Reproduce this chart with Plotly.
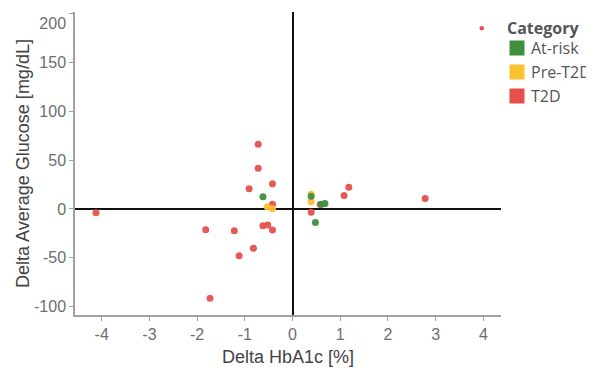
import plotly.graph_objects as go

categories = ["At-risk", "Pre-T2D", "T2D"]
colors = {"At-risk": "#3F8F3F", "Pre-T2D": "#FDC02F", "T2D": "#E5504D"}

at_risk_x = [-0.62, 0.39, 0.60, 0.68, 0.48]
at_risk_y = [12.5, 13.1, 4.9, 5.6, -13.8]

pre_t2d_x = [-0.53, -0.42, 0.39, 0.39]
pre_t2d_y = [2.2, 0.2, 15.1, 7.3]

t2d_x = [-0.72, -0.72, -0.42, -0.91, -0.42, -1.82, -1.22, -0.62, -0.52, -0.42,
         -0.82, -1.12, -1.73, 0.58, 0.39, 1.08, 1.18, 2.78, -4.12]
t2d_y = [66.2, 41.7, 25.7, 20.6, 4.9, -21.2, -22.3, -17.2, -16.5, -21.6,
         -40.3, -47.8, -91.4, 4.6, -3.3, 13.8, 22.3, 10.7, -3.9]

series = {
    "T2D": (t2d_x, t2d_y),
    "Pre-T2D": (pre_t2d_x, pre_t2d_y),
    "At-risk": (at_risk_x, at_risk_y),
}

x_ticks = [-4, -3, -2, -1, 0, 1, 2, 3, 4]
x_ticklabels = ["-4", "-3", "-2", "-1", "0", "1", "2", "3", "4"]
y_ticks = [-100, -50, 0, 50, 100, 150, 200]
# the top label sits just below its tick (as in the reference), via a leading line break
y_ticklabels = ["-100", "-50", "0", "50", "100", "150", "<br>200"]

# page body has an 8px margin, so the figure is drawn offset by (8, 8)
OFF = 8
W, H = 594 - OFF, 368 - OFF
ML, MR, MT, MB = 75 - OFF, W - (501 - OFF), 12 - OFF, H - (315 - OFF)
PW, PH = W - ML - MR, H - MT - MB

fig = go.Figure()
for cat in ["T2D", "Pre-T2D", "At-risk"]:
    xs, ys = series[cat]
    fig.add_trace(go.Scatter(x=xs, y=ys, mode="markers", name=cat, showlegend=False,
                             marker=dict(color=colors[cat], size=7, opacity=0.95)))

axis_common = dict(showgrid=False, showline=True, linecolor="#A0A0A0", linewidth=1.5,
                   ticks="outside", ticklen=4, tickcolor="#A0A0A0", tickwidth=1,
                   tickfont=dict(size=16, color="#6E6E6E"), automargin=False,
                   ticklabeloverflow="allow",
                   zeroline=True, zerolinecolor="#111111", zerolinewidth=2)

# manual legend (screen pixel positions converted to paper coords)
def px2paper_x(px):
    return (px - OFF - ML) / PW

def py2paper_y(py):
    return (H - MB - (py - OFF)) / PH

shapes = [dict(type="circle", xref="paper", yref="paper",
               x0=px2paper_x(479.5), x1=px2paper_x(484), y0=py2paper_y(30.5), y1=py2paper_y(26),
               fillcolor="#E5504D", line=dict(width=0))]
annotations = [dict(text="<b>Category</b>", xref="paper", yref="paper",
                    x=px2paper_x(505), y=py2paper_y(28), xanchor="left", yanchor="middle",
                    showarrow=False, font=dict(family="Open Sans, sans-serif", size=16, color="#555555"))]
for i, cat in enumerate(categories):
    cy = 48 + 24 * i
    shapes.append(dict(type="rect", xref="paper", yref="paper",
                       x0=px2paper_x(509.5), x1=px2paper_x(524.5),
                       y0=py2paper_y(cy + 7.5), y1=py2paper_y(cy - 7.5),
                       fillcolor=colors[cat], line=dict(width=0)))
    annotations.append(dict(text=cat, xref="paper", yref="paper",
                            x=px2paper_x(529), y=py2paper_y(cy), xanchor="left", yanchor="middle",
                            showarrow=False,
                            font=dict(family="Open Sans, sans-serif", size=16, color="#555555")))

fig.update_layout(
    width=W, height=H,
    margin=dict(l=ML, r=MR, t=MT, b=MB, autoexpand=False),
    paper_bgcolor="white", plot_bgcolor="white",
    font=dict(family="Liberation Sans, Arial, sans-serif"),
    showlegend=False,
    xaxis=dict(range=[-4.56, 4.37], tickvals=x_ticks, ticktext=x_ticklabels, **axis_common,
               title=dict(text="Delta HbA1c [%]", font=dict(size=18, color="#444444"), standoff=8)),
    yaxis=dict(range=[-108.5, 201.5], tickvals=y_ticks, ticktext=y_ticklabels, **axis_common,
               title=dict(text="Delta Average Glucose [mg/dL]", font=dict(size=18, color="#444444"), standoff=0)),
    shapes=shapes,
    annotations=annotations,
)

fig.write_html("out.html")
